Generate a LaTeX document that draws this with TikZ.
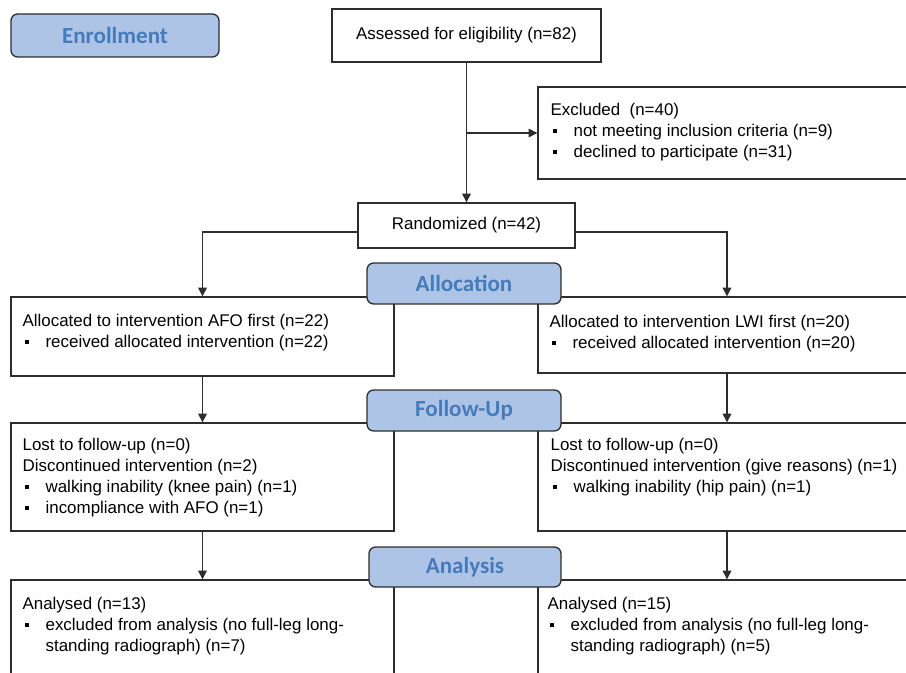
\documentclass[tikz,border=0pt]{standalone}
\usepackage{fontspec}
\setmainfont{Liberation Sans}
\newfontfamily\phasefont{Carlito}
\usepackage{tikz}
\usetikzlibrary{arrows.meta}

\definecolor{phasefill}{RGB}{173,196,231}
\definecolor{phasetext}{RGB}{70,123,186}
\definecolor{linegray}{RGB}{45,45,45}

\newcommand{\itm}{\makebox[17.25pt][l]{\hspace{1.5pt}\rule[2.6pt]{3.1pt}{3.1pt}}}

\tikzset{
    box/.style 2 args={draw=linegray, line width=1pt, fill=white, inner sep=0pt,
        minimum width=#1*0.75pt, minimum height=#2*0.75pt,
        font=\fontsize{12.7}{15.75}\selectfont},
    txt/.style={anchor=north west, inner sep=0pt, align=left,
        font=\fontsize{12.7}{15.75}\selectfont},
    phase/.style 2 args={draw=linegray, line width=1pt, fill=phasefill, rounded corners=5pt,
        minimum width=#1*0.75pt, minimum height=#2*0.75pt, text=phasetext,
        font=\phasefont\bfseries\fontsize{17.3}{20}\selectfont},
    link/.style={->, draw=linegray, line width=0.85pt},
}

\begin{document}
\begin{tikzpicture}[x=0.75pt, y=-0.75pt, >={Triangle[length=6.5pt,width=6.5pt]}]
    \useasboundingbox (0,0) rectangle (906,673);
    \clip (0,0) rectangle (906,673);

    \node[box={269}{53}] (assess) at (466.5,35.5) {Assessed for eligibility (n=82)};
    \node[box={378}{92}] (excl) at (727,133) {};
    \node[box={217}{45}] (rand) at (466.5,225.5) {Randomized (n=42)};
    \node[box={383}{79}] (afo) at (202.5,336.5) {};
    \node[box={378}{76}] (lwi) at (727,335) {};
    \node[box={383}{108}] (lostafo) at (202.5,477) {};
    \node[box={378}{108}] (lostlwi) at (727,477) {};
    \node[box={383}{130}] (anaafo) at (202.5,645) {};
    \node[box={378}{130}] (analwi) at (727,645) {};

    \node[txt] (excltxt) at ([shift={(13,17)}]excl.north west) {Excluded\ \ (n=40)\\
        \itm not meeting inclusion criteria (n=9)\\
        \itm declined to participate (n=31)};
    \node[txt] (afotxt) at ([shift={(12,18)}]afo.north west) {Allocated to intervention AFO first (n=22)\\
        \itm received allocated intervention (n=22)};
    \node[txt] (lwitxt) at ([shift={(12,19)}]lwi.north west) {Allocated to intervention LWI first (n=20)\\
        \itm received allocated intervention (n=20)};
    \node[txt] (lostafotxt) at ([shift={(12,16)}]lostafo.north west) {Lost to follow-up (n=0)\\
        Discontinued intervention (n=2)\\
        \itm walking inability (knee pain) (n=1)\\
        \itm incompliance with AFO (n=1)};
    \node[txt] (lostlwitxt) at ([shift={(13,16)}]lostlwi.north west) {Lost to follow-up (n=0)\\
        Discontinued intervention (give reasons) (n=1)\\
        \itm walking inability (hip pain) (n=1)};
    \node[txt] (anaafotxt) at ([shift={(12,18)}]anaafo.north west) {Analysed (n=13)\\
        \itm excluded from analysis (no full-leg long-\\
        \hspace*{17.25pt}standing radiograph) (n=7)};
    \node[txt] (analwitxt) at ([shift={(10,18)}]analwi.north west) {Analysed (n=15)\\
        \itm excluded from analysis (no full-leg long-\\
        \hspace*{17.25pt}standing radiograph) (n=5)};

    % arrows
    \coordinate (split) at (assess.south |- excl.west);
    \draw[link] (assess) -- (rand);
    \draw[link] (split) -- (excl.west);
    \draw[link] ([yshift=-4.9pt]rand.west) -| (afo.north);
    \draw[link] ([yshift=-4.9pt]rand.east) -| (lwi.north);
    \draw[link] (afo) -- (lostafo);
    \draw[link] (lwi) -- (lostlwi);
    \draw[link] (lostafo) -- (anaafo);
    \draw[link] (lostlwi) -- (analwi);

    % phase labels
    \node[phase={208}{43}] (enrol) at (115,35.5) {Enrollment};
    \node[phase={194}{41}] (alloc) at (464,283.5) {Allocation};
    \node[phase={194}{41}] (follow) at (464,410.5) {Follow-Up};
    \node[phase={192}{40}] (analys) at (465,567) {Analysis};
\end{tikzpicture}
\end{document}
